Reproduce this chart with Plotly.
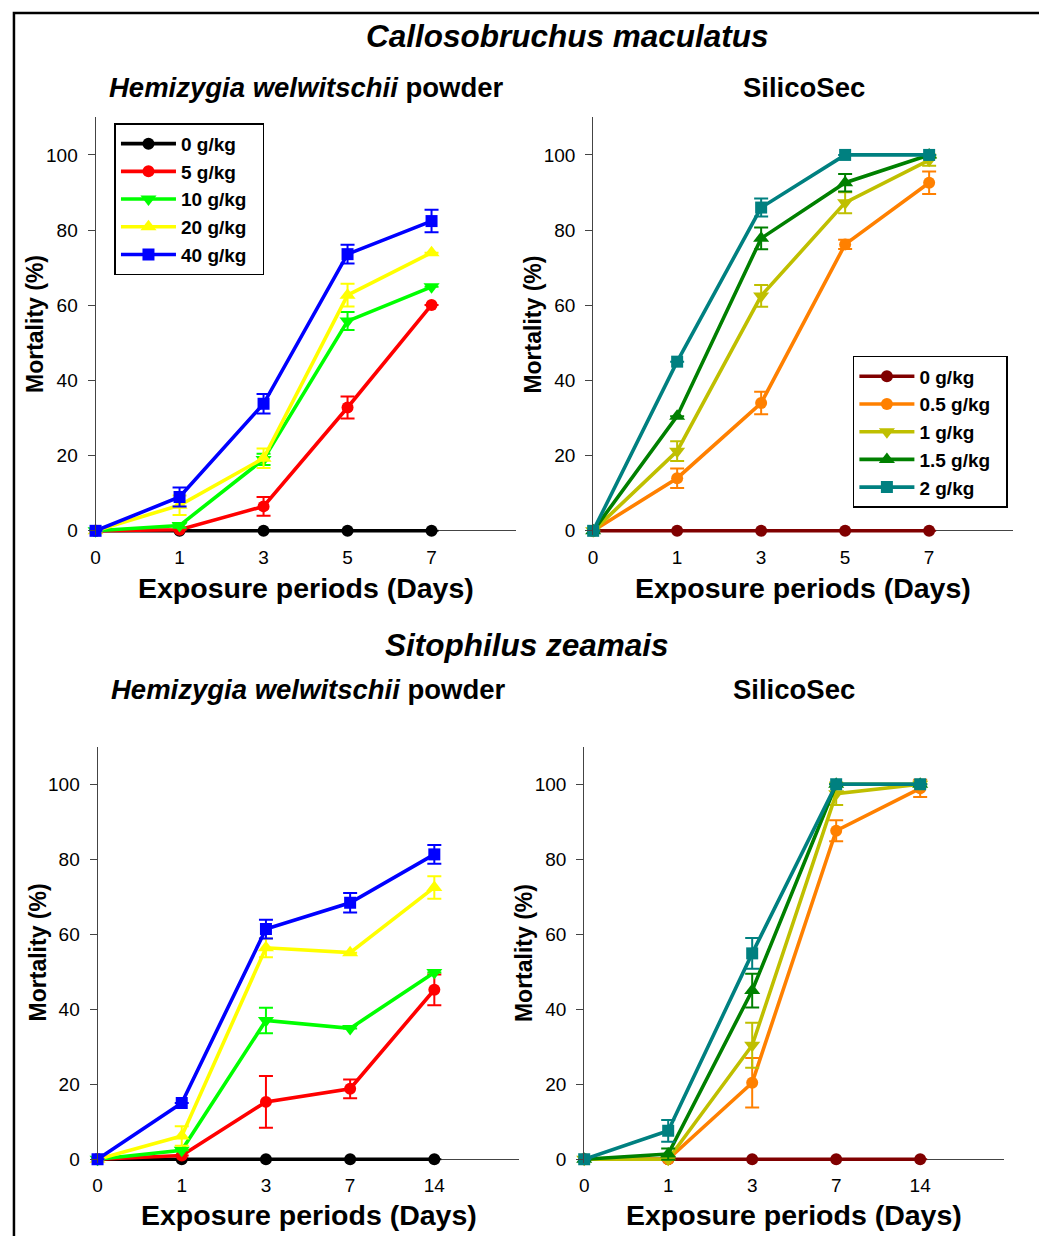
import plotly.graph_objects as go

W, H = 1039, 1236

# ---------------- data ----------------
days_cm = ["0", "1", "3", "5", "7"]
days_sz = ["0", "1", "3", "7", "14"]

hw_doses = ["0 g/kg", "5 g/kg", "10 g/kg", "20 g/kg", "40 g/kg"]
ss_doses = ["0 g/kg", "0.5 g/kg", "1 g/kg", "1.5 g/kg", "2 g/kg"]

# Callosobruchus maculatus - Hemizygia welwitschii powder
cm_hw_0 = [0, 0, 0, 0, 0]
cm_hw_5 = [0, 0.3, 6.5, 32.8, 60.1]
cm_hw_10 = [0, 1.4, 19.0, 55.8, 64.9]
cm_hw_20 = [0, 6.8, 19.3, 62.7, 74.0]
cm_hw_40 = [0, 9.0, 33.8, 73.6, 82.4]
cm_hw_0_err = [0, 0, 0, 0, 0]
cm_hw_5_err = [0, 0, 2.5, 2.9, 0]
cm_hw_10_err = [0, 0.6, 1.5, 2.4, 0]
cm_hw_20_err = [0, 2.6, 2.6, 3.0, 0]
cm_hw_40_err = [0, 2.5, 2.6, 2.5, 3.0]

# Callosobruchus maculatus - SilicoSec
cm_ss_0 = [0, 0, 0, 0, 0]
cm_ss_05 = [0, 14.0, 34.0, 76.2, 92.6]
cm_ss_1 = [0, 21.2, 62.5, 87.3, 98.6]
cm_ss_15 = [0, 30.5, 77.8, 92.6, 100]
cm_ss_2 = [0, 45.0, 86.0, 100, 100]
cm_ss_0_err = [0, 0, 0, 0, 0]
cm_ss_05_err = [0, 2.6, 3.0, 1.2, 3.0]
cm_ss_1_err = [0, 2.6, 2.9, 2.8, 1.5]
cm_ss_15_err = [0, 0, 2.9, 2.3, 0]
cm_ss_2_err = [0, 0, 2.4, 0, 0]

# Sitophilus zeamais - Hemizygia welwitschii powder
sz_hw_0 = [0, 0, 0, 0, 0]
sz_hw_5 = [0, 1.0, 15.3, 18.8, 45.2]
sz_hw_10 = [0, 2.4, 37.0, 34.9, 49.8]
sz_hw_20 = [0, 6.2, 56.4, 55.1, 72.5]
sz_hw_40 = [0, 15.0, 61.4, 68.4, 81.3]
sz_hw_0_err = [0, 0, 0, 0, 0]
sz_hw_5_err = [0, 0, 6.9, 2.5, 4.1]
sz_hw_10_err = [0, 0, 3.4, 0, 0]
sz_hw_20_err = [0, 2.6, 2.5, 0, 3.0]
sz_hw_40_err = [0, 0, 2.5, 2.6, 2.5]

# Sitophilus zeamais - SilicoSec
sz_ss_0 = [0, 0, 0, 0, 0]
sz_ss_05 = [0, 0, 20.4, 87.6, 98.9]
sz_ss_1 = [0, 0, 30.4, 97.5, 100]
sz_ss_15 = [0, 1.4, 45.0, 100, 100]
sz_ss_2 = [0, 7.6, 54.9, 100, 100]
sz_ss_0_err = [0, 0, 0, 0, 0]
sz_ss_05_err = [0, 0, 6.6, 2.8, 2.3]
sz_ss_1_err = [0, 0, 6.0, 3.0, 0]
sz_ss_15_err = [0, 1.5, 4.5, 0, 0]
sz_ss_2_err = [0, 2.9, 4.1, 0, 0]

y_ticks = [0, 20, 40, 60, 80, 100]

# ---------------- styles ----------------
hw_colors = ["#000000", "#FF0000", "#00FF00", "#FFFF00", "#0000FF"]
ss_colors = ["#800000", "#FF8000", "#BFBF00", "#008000", "#008080"]
symbols = ["circle", "circle", "triangle-down", "triangle-up", "square"]
FONT = "Liberation Sans, Arial, sans-serif"
PAD = "\u00a0\u00a0"

fig = go.Figure()

panels = [
    ("x", "y", days_cm, [cm_hw_0, cm_hw_5, cm_hw_10, cm_hw_20, cm_hw_40],
     [cm_hw_0_err, cm_hw_5_err, cm_hw_10_err, cm_hw_20_err, cm_hw_40_err],
     hw_doses, hw_colors, "legend"),
    ("x2", "y2", days_cm, [cm_ss_0, cm_ss_05, cm_ss_1, cm_ss_15, cm_ss_2],
     [cm_ss_0_err, cm_ss_05_err, cm_ss_1_err, cm_ss_15_err, cm_ss_2_err],
     ss_doses, ss_colors, "legend2"),
    ("x3", "y3", days_sz, [sz_hw_0, sz_hw_5, sz_hw_10, sz_hw_20, sz_hw_40],
     [sz_hw_0_err, sz_hw_5_err, sz_hw_10_err, sz_hw_20_err, sz_hw_40_err],
     hw_doses, hw_colors, None),
    ("x4", "y4", days_sz, [sz_ss_0, sz_ss_05, sz_ss_1, sz_ss_15, sz_ss_2],
     [sz_ss_0_err, sz_ss_05_err, sz_ss_1_err, sz_ss_15_err, sz_ss_2_err],
     ss_doses, ss_colors, None),
]

for xa, ya, days, series, errs, names, colors, leg in panels:
    xpos = list(range(len(days)))
    for i, (vals, err) in enumerate(zip(series, errs)):
        sz = 12 if symbols[i] in ("circle", "square") else 14
        tr = dict(
            x=xpos, y=vals, mode="lines+markers", name=names[i] + PAD,
            xaxis=xa, yaxis=ya, cliponaxis=False,
            line=dict(color=colors[i], width=3.6),
            marker=dict(color=colors[i], symbol=symbols[i], size=sz),
            error_y=dict(type="data", array=err, visible=True,
                         color=colors[i], thickness=2, width=7),
            showlegend=leg is not None,
        )
        if leg is not None:
            tr["legend"] = leg
        fig.add_trace(go.Scatter(**tr))

def px_x(p):
    return p / W

def px_y(p):
    return 1 - p / H

# y range starts slightly below zero so the zero-level lines are not clipped;
# the x-axis line is drawn as the y zeroline.
Y_MIN = -1.1
EXT = 4  # px below y=0

xdoms = {
    "xaxis": [px_x(91), px_x(513)],
    "xaxis2": [px_x(591), px_x(1013)],
    "xaxis3": [px_x(93), px_x(516)],
    "xaxis4": [px_x(582), px_x(1004)],
}
ydoms = {
    "yaxis": [px_y(534 + EXT), px_y(118)],
    "yaxis2": [px_y(534 + EXT), px_y(118)],
    "yaxis3": [px_y(1166 + EXT), px_y(751)],
    "yaxis4": [px_y(1166 + EXT), px_y(751)],
}

layout = dict(
    width=W, height=H,
    margin=dict(l=0, r=0, t=0, b=0),
    paper_bgcolor="white", plot_bgcolor="white",
    font=dict(family=FONT, color="black"),
)

for k, (name, dom) in enumerate(xdoms.items()):
    days = days_cm if k < 2 else days_sz
    layout[name] = dict(
        domain=dom, anchor="y" if k == 0 else f"y{k+1}",
        range=[0, 5], tickmode="array", tickvals=list(range(len(days))),
        ticktext=days, ticks="", showline=False,
        showgrid=False, zeroline=False, tickfont=dict(size=19, family=FONT),
        ticklabelstandoff=9,
    )
for k, (name, dom) in enumerate(ydoms.items()):
    layout[name] = dict(
        domain=dom, anchor="x" if k == 0 else f"x{k+1}",
        range=[Y_MIN, 110], tickmode="array", tickvals=y_ticks,
        ticks="outside", ticklen=7, tickcolor="#444", showline=True,
        linecolor="#444", linewidth=1, showgrid=False,
        zeroline=True, zerolinecolor="#444", zerolinewidth=1,
        tickfont=dict(size=19, family=FONT), ticklabelstandoff=6,
    )

legend_common = dict(
    xanchor="left", yanchor="top", bordercolor="black", borderwidth=1.5,
    bgcolor="white", font=dict(size=19, family=FONT, weight="bold"),
    tracegroupgap=0, itemwidth=55,
)
layout["legend"] = dict(x=px_x(110), y=px_y(124), **legend_common)
layout["legend2"] = dict(x=px_x(852), y=px_y(358), **legend_common)

fig.update_layout(**layout)

def ann(text, x, y, size, angle=0):
    fig.add_annotation(
        text=text, x=px_x(x), y=px_y(y), xref="paper", yref="paper",
        xanchor="center", yanchor="middle", showarrow=False, textangle=angle,
        font=dict(size=size, family=FONT, color="black"),
    )

ann("<b><i>Callosobruchus maculatus</i></b>", 565, 36, 31.5)
ann("<b><i>Sitophilus zeamais</i></b>", 525, 649, 31.5)
ann("<b><i>Hemizygia welwitschii</i> powder</b>", 303, 88, 27.5)
ann("<b>SilicoSec</b>", 803, 88, 27.5)
ann("<b><i>Hemizygia welwitschii</i> powder</b>", 305, 693, 27.5)
ann("<b>SilicoSec</b>", 793, 693, 27.5)
ann("<b>Exposure periods (Days)</b>", 302, 591, 28.5)
ann("<b>Exposure periods (Days)</b>", 802, 591, 28.5)
ann("<b>Exposure periods (Days)</b>", 305, 1222, 28.5)
ann("<b>Exposure periods (Days)</b>", 793, 1222, 28.5)
ann("<b>Mortality (%)</b>", 30, 326, 23, -90)
ann("<b>Mortality (%)</b>", 531, 326, 23, -90)
ann("<b>Mortality (%)</b>", 33, 958, 23, -90)
ann("<b>Mortality (%)</b>", 521, 958, 23, -90)

# outer frame
fig.add_shape(type="rect", xref="paper", yref="paper",
              x0=px_x(9), x1=1.02, y0=-0.02, y1=px_y(13),
              line=dict(color="black", width=2.5), fillcolor="rgba(0,0,0,0)",
              layer="below")

fig.write_html(
    "out.html",
    config={"displayModeBar": False},
    post_script="document.body.style.margin='0';document.body.style.overflow='hidden';",
)
